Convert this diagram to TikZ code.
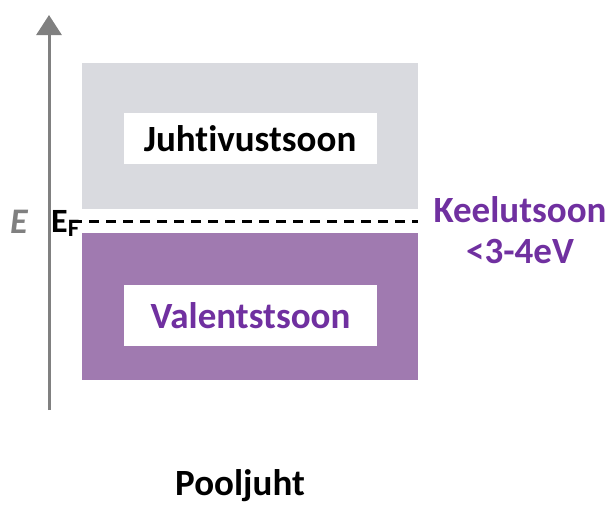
\documentclass[tikz,border=0pt]{standalone}
\usepackage{fontspec}
\setmainfont[Ligatures=NoCommon]{Carlito}
\usetikzlibrary{arrows.meta}
\definecolor{bandgray}{RGB}{217,218,223}
\definecolor{bandpurple}{RGB}{160,122,176}
\definecolor{txtpurple}{RGB}{112,48,160}
\definecolor{axisgray}{RGB}{128,128,128}
\begin{document}
\begin{tikzpicture}[x=1pt,y=-1pt,
  band/.style={draw=none,minimum width=336pt,anchor=north west,inner sep=0pt},
  label/.style={fill=white,minimum width=253pt,inner sep=0pt,font=\fontsize{37}{42}\selectfont\bfseries},
  big/.style={font=\fontsize{37}{42}\selectfont\bfseries,inner sep=0pt}]
\useasboundingbox (0,0) rectangle (613,504);
% axis
\coordinate (axbot) at (49,410);
\coordinate (axtop) at (49,15);
\draw[axisgray,line width=3pt,-{Triangle[length=20pt,width=25pt]}] (axbot) -- (axtop);
% bands
\node[band,fill=bandgray,minimum height=146pt] (cb) at (82,63) {};
\node[band,fill=bandpurple,minimum height=147pt] (vb) at (82,233) {};
\node[label,minimum height=51pt] (cbl) at (250,138.5) {Juhtivustsoon};
\node[label,minimum height=61pt,text=txtpurple] (vbl) at (250.5,315.5) {Valentstsoon};
% Fermi level
\node[big,anchor=base west,font=\fontsize{34}{36}\selectfont\bfseries] (ef) at (51,232) {E\raisebox{-0.3ex}{\fontsize{25}{26}\selectfont F}};
\coordinate (efend) at (418,221.5);
\draw[black,line width=3pt,dash pattern=on 10pt off 7pt] (72,221.5) -- (efend);
\node[big,text=axisgray,font=\fontsize{36}{38}\selectfont\bfseries\itshape,anchor=base] (E) at (19,233) {E};
% gap label
\node[big,text=txtpurple,anchor=base] (gap1) at (520,222) {Keelutsoon};
\node[big,text=txtpurple,anchor=base] (gap2) at (520,263) {<3-4eV};
% title
\node[big,anchor=base] (title) at (240,495) {Pooljuht};
\end{tikzpicture}
\end{document}
